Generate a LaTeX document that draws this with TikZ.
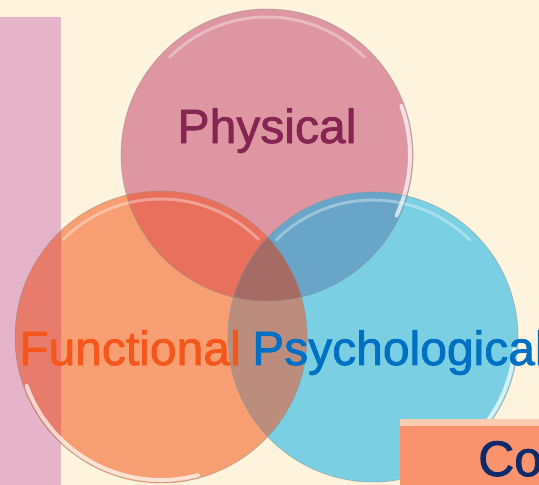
\documentclass[tikz,border=0pt]{standalone}
\usepackage{fontspec}
\setmainfont{Liberation Sans}
\newfontfamily\heavysans{Liberation Sans}[FakeBold=1.6]
\definecolor{bgcream}{HTML}{FEF3DC}
\definecolor{barpink}{HTML}{E6B4C9}
\definecolor{physfill}{HTML}{DF96A3}
\definecolor{funcfill}{HTML}{F79F72}
\definecolor{psyfill}{HTML}{7ACFE2}
\definecolor{physfunc}{HTML}{E8705C}
\definecolor{physpsy}{HTML}{68A5C9}
\definecolor{funcpsy}{HTML}{BC8D7C}
\definecolor{allthree}{HTML}{A76B66}
\definecolor{barfunc}{HTML}{E87C6C}
\definecolor{phystext}{HTML}{862552}
\definecolor{functext}{HTML}{F4561C}
\definecolor{psytext}{HTML}{0070C4}
\definecolor{boxfill}{HTML}{F9936D}
\definecolor{boxtop}{HTML}{FCCDB2}
\definecolor{boxtext}{HTML}{0D2A6B}
\begin{document}
\begin{tikzpicture}[x=1pt,y=-1pt,
  rim/.style={draw=black!45,draw opacity=0.45,line width=0.8pt},
  gloss/.style={draw=white,draw opacity=0.35,line width=3pt,line cap=round},
  shine/.style={draw=white,draw opacity=0.7,line width=4pt,line cap=round},
  bigtext/.style={font=\heavysans\fontsize{48}{48}\selectfont,inner sep=0pt}]
\useasboundingbox (0,0) rectangle (539,485);
\fill[bgcream] (0,0) rectangle (539,485);

% centres of the three circles
\coordinate (P) at (267,155);
\coordinate (F) at (161,337);
\coordinate (S) at (373,337);
\def\rad{146pt}

% side bar
\fill[barpink] (0,17) rectangle (61,485);

% circle bodies
\fill[physfill] (P) circle (\rad);
\fill[funcfill] (F) circle (\rad);
\fill[psyfill] (S) circle (145pt);

% overlaps
\begin{scope}
  \clip (0,17) rectangle (61,485);
  \fill[barfunc] (F) circle (\rad);
\end{scope}
\begin{scope}
  \clip (P) circle (\rad);
  \fill[physfunc] (F) circle (\rad);
  \fill[physpsy] (S) circle (145pt);
\end{scope}
\begin{scope}
  \clip (F) circle (\rad);
  \fill[funcpsy] (S) circle (145pt);
\end{scope}
\begin{scope}
  \clip (P) circle (\rad);
  \clip (F) circle (\rad);
  \fill[allthree] (S) circle (145pt);
\end{scope}

% glossy rims
\draw[gloss] (P) ++(135:138pt) arc (135:45:138pt);
\draw[gloss] (F) ++(135:138pt) arc (135:45:138pt);
\draw[gloss] (S) ++(135:137pt) arc (135:45:137pt);
\draw[shine] (P) ++(-25:143pt) arc (-25:20:143pt);
\draw[shine] (F) ++(200:143pt) arc (200:285:143pt);
\draw[shine] (S) ++(-75:142pt) arc (-75:-5:142pt);
\draw[rim] (P) circle (\rad);
\draw[rim] (F) circle (\rad);
\draw[rim] (S) circle (145pt);

% labels
\node[bigtext,text=phystext,anchor=base] (phys) at (267,143) {Physical};
\node[bigtext,text=functext,anchor=base west] (func) at (19,365) {Functional};
\node[bigtext,text=psytext,anchor=base west] (psy) at (252,365) {Psychological};

% box at lower right
\fill[boxtop] (400,419) rectangle (539,485);
\fill[boxfill] (400,426) rectangle (539,485);
\node[font=\heavysans\fontsize{50}{50}\selectfont,inner sep=0pt,text=boxtext,anchor=base west] (co) at (478,476) {Co};
\end{tikzpicture}
\end{document}
